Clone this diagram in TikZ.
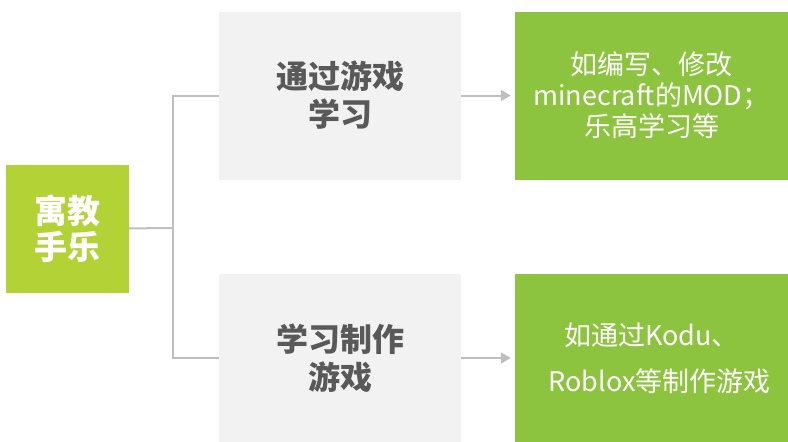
\documentclass[tikz,border=0pt]{standalone}
\usepackage{fontspec}
\setmainfont{Noto Sans CJK SC}
\usetikzlibrary{arrows.meta}

\definecolor{rootgreen}{HTML}{B3D236}
\definecolor{exgreen}{HTML}{8DC43F}
\definecolor{boxgray}{HTML}{F2F2F2}
\definecolor{txtgray}{HTML}{595959}
\definecolor{linegray}{HTML}{BFBFBF}

\tikzset{
  rootbox/.style={fill=rootgreen, text=white, font=\bfseries\fontsize{33}{36}\selectfont,
    align=center, minimum width=123pt, minimum height=128pt, inner sep=0pt},
  waybox/.style={fill=boxgray, text=txtgray, font=\bfseries\fontsize{32}{38}\selectfont,
    align=center, minimum width=242pt, minimum height=168pt, inner sep=0pt},
  exbox/.style={fill=exgreen, text=white, font=\fontsize{27}{31}\selectfont,
    align=center, minimum width=273pt, minimum height=168pt, inner sep=0pt},
  link/.style={draw=linegray, line width=2pt},
  arr/.style={link, -{Triangle[length=10pt,width=11pt]}, shorten >=4pt}
}

\begin{document}
\begin{tikzpicture}[x=1pt,y=-1pt]
  \useasboundingbox (0,0) rectangle (788,442);
  % boxes
  \node[rootbox] (root) at (67.5,229) {寓教\\手乐};
  \node[waybox] (learn) at (340,95.5) {通过游戏\\学习};
  \node[waybox] (make) at (340,358) {学习制作\\游戏};
  \node[exbox] (learnex) at (651.5,95.5) {如编写、修改\\minecraft的MOD；\\乐高学习等};
  \node[exbox] (makeex) at (651.5,358) {如通过Kodu、\\[15pt]\hspace*{16pt}Roblox等制作游戏};
  % connectors
  \coordinate (split) at (173,228);
  \draw[link] (root) -- (split);
  \draw[link] (split) |- (learn);
  \draw[link] (split) |- (make);
  \draw[arr] (learn) -- (learnex);
  \draw[arr] (make) -- (makeex);
\end{tikzpicture}
\end{document}
